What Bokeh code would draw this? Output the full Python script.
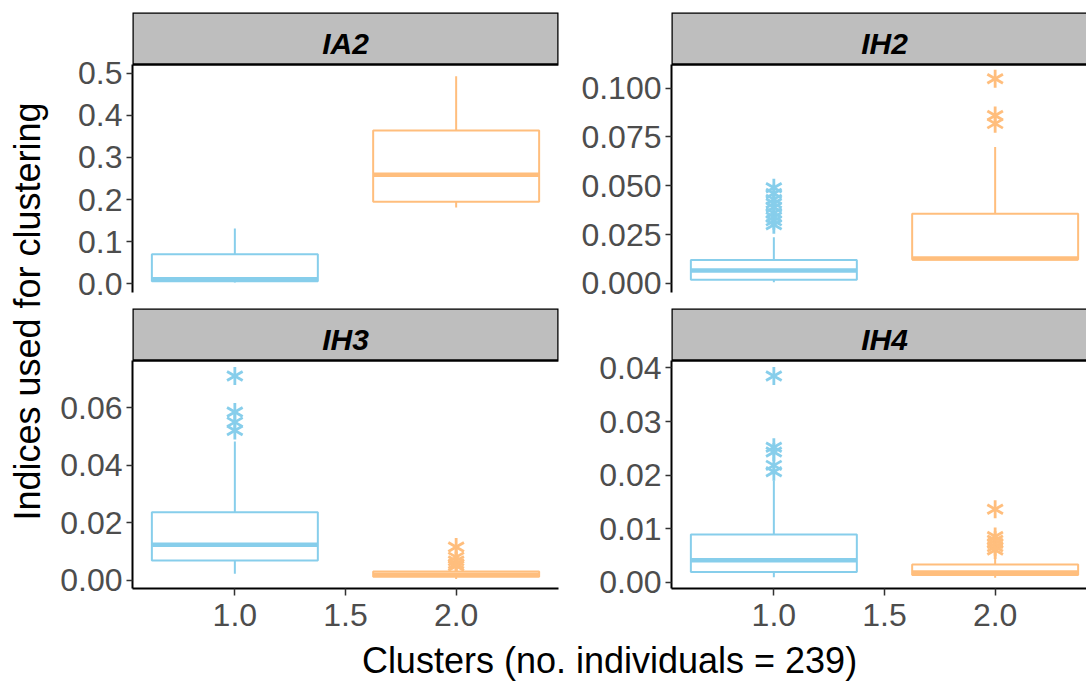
import math
from bokeh.plotting import figure
from bokeh.layouts import row, column
from bokeh.models import Range1d, FixedTicker, PrintfTickFormatter
from bokeh.core.properties import value
from bokeh.embed import file_html
from bokeh.resources import INLINE

FONT = "Liberation Sans"

# ---------------- data ----------------
clusters = [1.0, 2.0]
cluster_colors = ["#87CEEB", "#FFBE7D"]
panel_names = ["IA2", "IH2", "IH3", "IH4"]

ia2_lower = [0.003, 0.181]
ia2_q1 = [0.006, 0.195]
ia2_median = [0.011, 0.259]
ia2_q3 = [0.070, 0.364]
ia2_upper = [0.131, 0.493]
ia2_outliers_1 = []
ia2_outliers_2 = []

ih2_lower = [0.0006, 0.0120]
ih2_q1 = [0.0018, 0.0122]
ih2_median = [0.0066, 0.0127]
ih2_q3 = [0.0120, 0.0356]
ih2_upper = [0.0236, 0.0698]
ih2_outliers_1 = [0.030, 0.032, 0.034, 0.036, 0.039, 0.041, 0.043, 0.046, 0.049]
ih2_outliers_2 = [0.0818, 0.0860, 0.1048]

ih3_lower = [0.0023, 0.0005]
ih3_q1 = [0.0069, 0.0013]
ih3_median = [0.0124, 0.0020]
ih3_q3 = [0.0237, 0.0031]
ih3_upper = [0.0483, 0.0045]
ih3_outliers_1 = [0.0521, 0.0550, 0.0585, 0.0710]
ih3_outliers_2 = [0.0050, 0.0058, 0.0068, 0.0081, 0.0116]

ih4_lower = [0.0009, 0.0008]
ih4_q1 = [0.0019, 0.0013]
ih4_median = [0.0041, 0.0018]
ih4_q3 = [0.0089, 0.0033]
ih4_upper = [0.0190, 0.0052]
ih4_outliers_1 = [0.0206, 0.0218, 0.0243, 0.0252, 0.0385]
ih4_outliers_2 = [0.0060, 0.0066, 0.0072, 0.0078, 0.0085, 0.0136]

ia2_ticks = [0.0, 0.1, 0.2, 0.3, 0.4, 0.5]
ih2_ticks = [0.0, 0.025, 0.05, 0.075, 0.1]
ih3_ticks = [0.0, 0.02, 0.04, 0.06]
ih4_ticks = [0.0, 0.01, 0.02, 0.03, 0.04]
x_ticks = [1.0, 1.5, 2.0]

y_label = "Indices used for clustering"
x_label = "Clusters (no. individuals = 239)"

# ---------------- layout constants ----------------
BOX_W = 0.75
X_START, X_END = 0.5375, 2.4625
PX_PER_UNIT = 426 / (X_END - X_START)
DATA_H = 228
STRIP_H = 52
FRAME_H = DATA_H + STRIP_H
BOT_B = 52


def make_panel(name, lower, q1, med, q3, upper, out1, out2, ticks, fmt, ylim,
               frame_w, lb, rb, tb, bb, show_x):
    y0, y1 = ylim
    upp = (y1 - y0) / DATA_H
    y_full = y1 + STRIP_H * upp
    x_end = X_START + frame_w / PX_PER_UNIT
    p = figure(frame_width=frame_w, frame_height=FRAME_H,
               x_range=Range1d(X_START, x_end), y_range=Range1d(y0, y_full),
               toolbar_location=None, output_backend="svg",
               x_axis_location="below" if show_x else None,
               min_border_left=lb, min_border_right=rb,
               min_border_top=tb, min_border_bottom=bb,
               outline_line_color=None, background_fill_color="white",
               border_fill_color="white")
    p.grid.visible = False

    ax = p.yaxis[0]
    ax.ticker = FixedTicker(ticks=ticks)
    ax.formatter = PrintfTickFormatter(format=fmt)
    ax.bounds = (y0, y1)
    ax.axis_line_color = "black"
    ax.axis_line_width = 2
    ax.minor_tick_line_color = None
    ax.major_tick_in = 0
    ax.major_tick_out = 6
    ax.major_tick_line_width = 1.5
    ax.major_tick_line_color = "#333333"
    ax.major_label_text_font = FONT
    ax.major_label_text_font_size = "32px"
    ax.major_label_text_color = "#4D4D4D"
    ax.major_label_standoff = 4

    if show_x:
        xa = p.xaxis[0]
        xa.ticker = FixedTicker(ticks=x_ticks)
        xa.formatter = PrintfTickFormatter(format="%.1f")
        xa.axis_line_color = "black"
        xa.axis_line_width = 2
        xa.minor_tick_line_color = None
        xa.major_tick_in = 0
        xa.major_tick_out = 7
        xa.major_tick_line_width = 1.5
        xa.major_tick_line_color = "#333333"
        xa.major_label_text_font = FONT
        xa.major_label_text_font_size = "32px"
        xa.major_label_text_color = "#4D4D4D"
        xa.major_label_standoff = 8

    # outliers (6-armed asterisks)
    ox = [clusters[0]] * len(out1) + [clusters[1]] * len(out2)
    oy = list(out1) + list(out2)
    oc = [cluster_colors[0]] * len(out1) + [cluster_colors[1]] * len(out2)
    if oy:
        for ang in (math.pi / 2, math.pi / 6, -math.pi / 6):
            p.scatter(x=ox, y=oy, marker="dash", size=18, angle=ang,
                      line_color=oc, line_width=2.8)

    # whiskers
    p.segment(x0=clusters, y0=q3, x1=clusters, y1=upper,
              line_color=cluster_colors, line_width=2)
    p.segment(x0=clusters, y0=q1, x1=clusters, y1=lower,
              line_color=cluster_colors, line_width=2)
    # boxes
    p.vbar(x=clusters, width=BOX_W, bottom=q1, top=q3, fill_color="white",
           line_color=cluster_colors, line_width=2)
    # medians
    p.segment(x0=[c - BOX_W / 2 for c in clusters], y0=med,
              x1=[c + BOX_W / 2 for c in clusters], y1=med,
              line_color=cluster_colors, line_width=4.5)

    # facet strip
    p.quad(left=[X_START], right=[X_END], bottom=[y1], top=[y_full],
           fill_color="#BEBEBE", line_color="black", line_width=2.5)
    p.text(x=[(X_START + X_END) / 2], y=[y1 + 21 * upp], text=[name],
           text_align="center", text_baseline="middle",
           text_font=value(FONT), text_font_style="bold italic",
           text_font_size="30px", text_color="black")
    return p


LW, RW = 426, 415
TOP_B = 12
p1 = make_panel(panel_names[0], ia2_lower, ia2_q1, ia2_median, ia2_q3, ia2_upper,
                ia2_outliers_1, ia2_outliers_2, ia2_ticks, "%.1f", (-0.0207, 0.5207),
                LW, 79, 13, TOP_B, 16, False)
p2 = make_panel(panel_names[1], ih2_lower, ih2_q1, ih2_median, ih2_q3, ih2_upper,
                ih2_outliers_1, ih2_outliers_2, ih2_ticks, "%.3f", (-0.0047, 0.1121),
                RW, 100, 0, TOP_B, 16, False)
p3 = make_panel(panel_names[2], ih3_lower, ih3_q1, ih3_median, ih3_q3, ih3_upper,
                ih3_outliers_1, ih3_outliers_2, ih3_ticks, "%.2f", (-0.0028, 0.0764),
                LW, 79, 13, 0, BOT_B, True)
p4 = make_panel(panel_names[3], ih4_lower, ih4_q1, ih4_median, ih4_q3, ih4_upper,
                ih4_outliers_1, ih4_outliers_2, ih4_ticks, "%.2f", (-0.0012, 0.0414),
                RW, 100, 0, 0, BOT_B, True)

YL_W = 53
GRID_H = TOP_B + FRAME_H + 16 + FRAME_H + BOT_B
ylab = figure(width=YL_W, height=GRID_H, x_range=(0, 1), y_range=(0, 1),
              toolbar_location=None, output_backend="svg",
              x_axis_location=None, y_axis_location=None, min_border=0,
              outline_line_color=None)
ylab.grid.visible = False
ylab.text(x=[27 / YL_W], y=[1 - 311 / GRID_H], text=[y_label], angle=math.pi / 2,
          text_align="center", text_baseline="middle", text_font=value(FONT),
          text_font_size="36px", text_color="black")

XL_W, XL_H = YL_W + 518 + 100 + RW, 682 - GRID_H
xlab = figure(width=XL_W, height=XL_H, x_range=(0, 1), y_range=(0, 1),
              toolbar_location=None, output_backend="svg",
              x_axis_location=None, y_axis_location=None, min_border=0,
              outline_line_color=None)
xlab.grid.visible = False
xlab.text(x=[609 / XL_W], y=[1 - (660 - GRID_H) / XL_H], text=[x_label],
          text_align="center", text_baseline="middle", text_font=value(FONT),
          text_font_size="36px", text_color="black")

layout = column(row(ylab, column(row(p1, p2), row(p3, p4))), xlab)

open("out.html", "w").write(file_html(layout, INLINE))
